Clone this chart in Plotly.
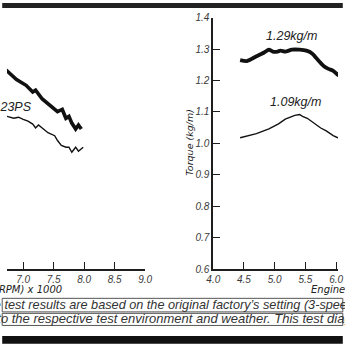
import plotly.graph_objects as go

# ---------------- data ----------------
# Left chart: power (PS) vs engine speed (RPM x 1000)
pwr_rpm_thick = [6.60, 6.734, 6.89, 7.047, 7.156, 7.203, 7.3125, 7.406, 7.516, 7.5625, 7.64, 7.70, 7.75, 7.797, 7.86, 7.906, 7.953]
pwr_thick = [11.75, 11.46, 11.05, 10.77, 10.45, 10.54, 10.12, 9.89, 9.66, 9.52, 9.62, 9.20, 9.29, 8.97, 8.69, 8.88, 8.69]
pwr_rpm_thin = [6.60, 6.734, 6.844, 6.922, 7.0, 7.078, 7.156, 7.203, 7.25, 7.328, 7.406, 7.516, 7.5625, 7.625, 7.703, 7.75, 7.797, 7.86, 7.906, 7.984]
pwr_thin = [9.35, 9.29, 9.20, 9.25, 9.15, 9.06, 8.92, 8.74, 8.88, 8.69, 8.51, 8.37, 8.14, 7.91, 7.82, 7.82, 7.58, 7.82, 7.63, 7.82]

# Right chart: torque (kg/m) vs engine speed (RPM x 1000)
trq_rpm_thick = [4.4375, 4.547, 4.703, 4.828, 4.906, 4.969, 5.047, 5.094, 5.172, 5.281, 5.406, 5.516, 5.609, 5.719, 5.797, 5.875, 5.953, 6.031, 6.2, 6.4]
trq_thick = [1.265, 1.262, 1.277, 1.289, 1.298, 1.292, 1.292, 1.295, 1.292, 1.298, 1.298, 1.295, 1.286, 1.262, 1.246, 1.237, 1.231, 1.218, 1.20, 1.18]
trq_rpm_thin = [4.4375, 4.703, 4.906, 5.0625, 5.172, 5.25, 5.328, 5.406, 5.453, 5.531, 5.64, 5.75, 5.84, 5.953, 6.03, 6.2, 6.4]
trq_thin = [1.018, 1.031, 1.046, 1.062, 1.077, 1.083, 1.089, 1.092, 1.086, 1.080, 1.065, 1.049, 1.040, 1.025, 1.018, 1.00, 0.98]

rpm_ticks = [4.0, 4.5, 5.0, 5.5, 6.0, 6.5, 7.0, 7.5, 8.0, 8.5, 9.0]
torque_ticks = [0.6, 0.7, 0.8, 0.9, 1.0, 1.1, 1.2, 1.3, 1.4]

label_power = "9.23PS"
label_trq_hi = "1.29kg/m"
label_trq_lo = "1.09kg/m"
axis_title_x = "Engine Speed (RPM) x 1000"
axis_title_y = "Torque (kg/m)"
note_1 = "The test results are based on the original factory\u2019s setting (3-speed drive, standard parts)"
note_2 = "due to the respective test environment and weather. This test diagram is for reference only"

# ---------------- layout helpers ----------------
W = H = 345
def px(x):
    return x / W
def py(y):
    return 1 - y / H

FONT = "Liberation Sans"
TFONT = "DejaVu Sans"
AX = "#1e1e1e"
TICKC = "#3a3a3a"

fig = go.Figure()

fig.add_trace(go.Scatter(x=pwr_rpm_thick, y=pwr_thick, mode="lines", xaxis="x", yaxis="y",
                         line=dict(color="#111", width=3.6), hoverinfo="skip"))
fig.add_trace(go.Scatter(x=pwr_rpm_thin, y=pwr_thin, mode="lines", xaxis="x", yaxis="y",
                         line=dict(color="#111", width=1.4), hoverinfo="skip"))
fig.add_trace(go.Scatter(x=trq_rpm_thick, y=trq_thick, mode="lines", xaxis="x2", yaxis="y2",
                         line=dict(color="#111", width=3.8, shape="spline", smoothing=0.6), hoverinfo="skip"))
fig.add_trace(go.Scatter(x=trq_rpm_thin, y=trq_thin, mode="lines", xaxis="x2", yaxis="y2",
                         line=dict(color="#111", width=1.4), hoverinfo="skip"))

ydom = [py(273), py(13)]
tickfont = dict(family=FONT, size=10, color=TICKC, style="italic")

fig.update_layout(
    width=W, height=H,
    margin=dict(l=0, r=0, t=0, b=0),
    paper_bgcolor="white", plot_bgcolor="white",
    showlegend=False,
    xaxis=dict(domain=[0, px(144)], range=[6.734, 9.0], tickvals=rpm_ticks, tickformat=".1f",
               ticks="inside", ticklen=7, tickwidth=1.3, tickcolor=AX,
               showline=True, linecolor=AX, linewidth=1.8, showgrid=False, zeroline=False,
               tickfont=tickfont, anchor="y", ticklabeloverflow="allow"),
    yaxis=dict(domain=ydom, range=[2, 14], showline=False, showticklabels=False, ticks="",
               showgrid=False, zeroline=False, anchor="x"),
    xaxis2=dict(domain=[px(215), 1.0], range=[4.0, 4.0 + (345 - 215) / 64], tickvals=rpm_ticks, tickformat=".1f",
                ticks="inside", ticklen=7, tickwidth=1.3, tickcolor=AX,
                showline=True, linecolor=AX, linewidth=1.8, showgrid=False, zeroline=False,
                tickfont=tickfont, anchor="y2", ticklabeloverflow="allow"),
    yaxis2=dict(domain=ydom, range=[0.6, 1.4], tickvals=torque_ticks, tickformat=".1f",
                ticks="inside", ticklen=7, tickwidth=1.3, tickcolor=AX,
                showline=True, linecolor=AX, linewidth=1.8, showgrid=False, zeroline=False,
                tickfont=tickfont, anchor="x2", ticklabeloverflow="allow"),
)

ann = []
ann.append(dict(text=label_power, x=px(28), y=py(105), xref="paper", yref="paper", xanchor="right", yanchor="middle",
                showarrow=False, font=dict(family=FONT, size=12.5, color="#222", style="italic")))
ann.append(dict(text=label_trq_hi, x=px(297), y=py(32), xref="paper", yref="paper", xanchor="center", yanchor="middle",
                showarrow=False, font=dict(family=FONT, size=12.5, color="#222", style="italic")))
ann.append(dict(text=label_trq_lo, x=px(301), y=py(100), xref="paper", yref="paper", xanchor="center", yanchor="middle",
                showarrow=False, font=dict(family=FONT, size=12.5, color="#222", style="italic")))
ann.append(dict(text=axis_title_x, x=px(59), y=py(294), xref="paper", yref="paper", xanchor="right", yanchor="middle",
                showarrow=False, font=dict(family=TFONT, size=10, color="#222", style="italic")))
ann.append(dict(text=axis_title_x, x=px(315), y=py(294), xref="paper", yref="paper", xanchor="left", yanchor="middle",
                showarrow=False, font=dict(family=TFONT, size=10, color="#222", style="italic")))
ann.append(dict(text=axis_title_y, x=px(190), y=py(142), xref="paper", yref="paper", xanchor="center", yanchor="middle",
                textangle=-90, showarrow=False, font=dict(family=TFONT, size=9.5, color="#222", style="italic")))
ann.append(dict(text=note_1, x=px(-31), y=py(310), xref="paper", yref="paper", xanchor="left", yanchor="middle",
                showarrow=False, font=dict(family=FONT, size=12.7, color="#333", style="italic")))
ann.append(dict(text=note_2, x=px(-39), y=py(324), xref="paper", yref="paper", xanchor="left", yanchor="middle",
                showarrow=False, font=dict(family=FONT, size=13, color="#333", style="italic")))
fig.update_layout(annotations=ann)

shapes = [
    dict(type="rect", xref="paper", yref="paper", x0=px(-5), x1=px(350), y0=py(3), y1=py(-2),
         fillcolor="#222", line=dict(width=0)),
    dict(type="rect", xref="paper", yref="paper", x0=px(-5), x1=px(350), y0=py(350), y1=py(342),
         fillcolor="#111", line=dict(width=0)),
    dict(type="rect", xref="paper", yref="paper", x0=px(-5), x1=px(350), y0=py(317), y1=py(303),
         fillcolor="rgba(0,0,0,0)", line=dict(color="#555", width=1)),
    dict(type="rect", xref="paper", yref="paper", x0=px(-5), x1=px(350), y0=py(331), y1=py(318.5),
         fillcolor="rgba(0,0,0,0)", line=dict(color="#555", width=1)),
]
fig.update_layout(shapes=shapes)

fig.write_html("out.html")
